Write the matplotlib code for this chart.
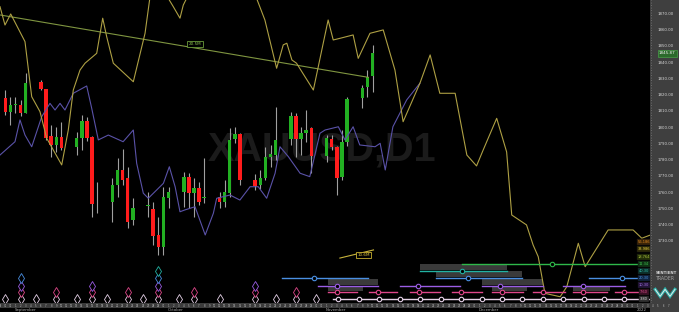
import matplotlib
matplotlib.use('Agg')
import matplotlib.pyplot as plt
from matplotlib.patches import Rectangle
import pandas as pd

# ---- daily candles XAUUSD D1 ----
dates = ['2021-08-30', '2021-08-31', '2021-09-01', '2021-09-02', '2021-09-03',
         '2021-09-06', '2021-09-07', '2021-09-08', '2021-09-09', '2021-09-10',
         '2021-09-13', '2021-09-14', '2021-09-15', '2021-09-16', '2021-09-17',
         '2021-09-20', '2021-09-21', '2021-09-22', '2021-09-23', '2021-09-24',
         '2021-09-27', '2021-09-28', '2021-09-29', '2021-09-30', '2021-10-01',
         '2021-10-04', '2021-10-05', '2021-10-06', '2021-10-07', '2021-10-08',
         '2021-10-11', '2021-10-12', '2021-10-13', '2021-10-14', '2021-10-15',
         '2021-10-18', '2021-10-19', '2021-10-20', '2021-10-21', '2021-10-22',
         '2021-10-25', '2021-10-26', '2021-10-27', '2021-10-28', '2021-10-29',
         '2021-11-01', '2021-11-02', '2021-11-03', '2021-11-04', '2021-11-05',
         '2021-11-08', '2021-11-09', '2021-11-10']
opens = [1818.3, 1809.7, 1813.8, 1814.0, 1809.3,
         1828.0, 1823.7, 1795.0, 1789.4, 1794.1,
         1788.3, 1793.5, 1804.2, 1794.0, 1754.0,
         1754.5, 1764.8, 1774.0, 1768.9, 1743.2,
         1752.0, 1750.0, 1734.0, 1726.4, 1756.6,
         1760.7, 1769.9, 1759.7, 1762.8, 1757.0,
         1757.6, 1754.1, 1759.7, 1792.9, 1796.0,
         1767.8, 1764.8, 1769.3, 1781.8, 1783.2,
         1792.9, 1807.2, 1792.9, 1796.6, 1799.7,
         1782.6, 1793.0, 1788.0, 1769.9, 1791.4,
         1818.1, 1825.3, 1832.0]
highs = [1823.2, 1819.1, 1819.0, 1817.0, 1833.5,
         1829.4, 1824.0, 1801.7, 1800.6, 1803.7,
         1797.6, 1807.8, 1806.8, 1795.0, 1766.8,
         1769.0, 1781.2, 1786.9, 1776.0, 1756.6,
         1760.7, 1754.5, 1745.3, 1763.7, 1763.7,
         1773.0, 1772.0, 1769.0, 1766.8, 1781.2,
         1760.7, 1767.8, 1799.7, 1800.6, 1797.0,
         1771.5, 1774.0, 1788.3, 1789.4, 1813.0,
         1809.9, 1808.9, 1800.6, 1810.9, 1800.6,
         1795.5, 1795.5, 1789.0, 1798.6, 1819.0,
         1826.3, 1835.5, 1850.9]
lows = [1807.8, 1801.7, 1809.0, 1807.0, 1809.0,
        1823.0, 1792.5, 1782.0, 1785.3, 1786.3,
        1783.2, 1786.3, 1792.0, 1745.3, 1747.4,
        1742.2, 1757.6, 1764.8, 1738.1, 1740.2,
        1745.3, 1727.9, 1721.7, 1721.7, 1750.4,
        1751.4, 1750.4, 1745.3, 1752.5, 1753.5,
        1750.4, 1751.4, 1757.6, 1790.4, 1764.8,
        1761.7, 1762.0, 1767.8, 1776.0, 1780.2,
        1789.4, 1782.2, 1783.2, 1791.4, 1772.0,
        1779.0, 1786.3, 1758.6, 1768.0, 1789.0,
        1812.0, 1819.1, 1822.2]
closes = [1809.7, 1814.0, 1814.2, 1809.3, 1827.3,
          1823.7, 1793.5, 1789.4, 1794.1, 1787.4,
          1793.5, 1804.3, 1793.5, 1753.0, 1754.5,
          1764.8, 1774.0, 1767.8, 1742.2, 1750.4,
          1752.5, 1733.6, 1726.4, 1757.2, 1760.3,
          1769.9, 1759.7, 1762.8, 1754.5, 1757.5,
          1754.1, 1760.7, 1792.5, 1796.0, 1767.8,
          1764.2, 1769.3, 1781.8, 1783.7, 1792.5,
          1807.2, 1792.9, 1796.6, 1798.6, 1782.6,
          1793.5, 1788.0, 1769.3, 1791.4, 1817.5,
          1824.3, 1831.4, 1845.9]

# ---- overlay lines (x = days since 1 Sep 2021) ----
yellow_days = [-3.04, -2.06, -0.94, 1.86, 3.18, 4.8, 6.12, 7.41, 9.06, 10.35,
               11.33, 12.65, 13.63, 15.92, 17.1, 17.88, 19.18, 23.1, 25.4, 27.0,
               30.94, 32.25, 32.9, 36.0, 42.0, 46.0, 48.9, 51.2, 52.5, 53.2,
               54.2, 55.1, 58.4, 61.3, 62.3, 63.6, 66.2, 67.2, 69.5, 72.1,
               74.4, 76.0, 79.3, 81.3, 83.2, 86.2, 88.5, 90.4, 91.7, 94.35,
               96.3, 97.3, 100.2, 101.5, 102.5, 103.8, 106.8, 108.1, 110.35, 111.7,
               116.2, 121.1, 122.8, 124.5]
yellow_price = [1874.5, 1863.2, 1870.0, 1853.0, 1819.1, 1809.9, 1793.5, 1786.3, 1777.1, 1798.6,
                1823.2, 1835.5, 1839.7, 1845.8, 1867.4, 1856.0, 1839.7, 1828.3, 1858.1, 1895.0,
                1874.5, 1867.4, 1875.5, 1895.0, 1905.0, 1890.0, 1866.3, 1836.6, 1851.0, 1852.0,
                1841.7, 1839.7, 1823.2, 1866.3, 1854.0, 1855.0, 1857.1, 1842.7, 1858.1, 1860.2,
                1835.5, 1803.7, 1827.4, 1844.8, 1821.2, 1821.2, 1783.2, 1776.5, 1786.3, 1805.8,
                1785.1, 1746.3, 1740.2, 1727.8, 1720.6, 1698.1, 1696.0, 1702.2, 1728.9, 1714.5,
                1737.1, 1737.1, 1732.0, 1734.0]
purple_days = [-3.04, -0.1, 0.88, 1.86, 3.18, 5.14, 6.76, 7.75, 8.73, 9.7,
               11.33, 13.96, 14.94, 16.24, 18.2, 21.1, 23.1, 23.76, 25.06, 26.04,
               29.0, 30.16, 31.3, 32.25, 33.2, 35.2, 37.2, 38.8, 39.45, 42.06,
               44.0, 46.0, 47.6, 49.25, 50.9, 51.86, 53.5, 55.8, 57.7, 59.7,
               60.7, 63.3, 64.6, 66.2, 67.5, 70.5, 71.5, 72.5, 74.0, 76.7, 79.3]
purple_price = [1783.2, 1791.4, 1804.8, 1795.5, 1788.3, 1806.8, 1815.0, 1810.9, 1815.0, 1810.9,
                1821.2, 1825.7, 1812.0, 1792.5, 1795.5, 1791.4, 1798.6, 1778.1, 1759.7, 1756.6,
                1765.8, 1776.0, 1763.7, 1748.3, 1749.4, 1751.4, 1734.0, 1747.4, 1756.6, 1758.6,
                1755.5, 1763.7, 1763.7, 1756.6, 1772.0, 1788.3, 1782.2, 1772.0, 1769.9, 1796.6,
                1798.6, 1800.6, 1792.5, 1800.6, 1789.4, 1788.3, 1790.4, 1774.0, 1800.6, 1817.1, 1827.4]
trend_days = [-3.04, 69.2]
trend_price = [1869.4, 1831.0]
vol_days = [63.6, 70.2]
vol_price = [1719.8, 1724.8]

price_ticks = [1870, 1860, 1850, 1840, 1830, 1820, 1810, 1800, 1790, 1780, 1770, 1760, 1750, 1740, 1730]
last_price = 1845.87

# ---- cycle troughs ----
trough_days = [-2, 1, 4, 8, 12, 15, 18, 22, 25, 28, 32, 35, 40, 47, 51, 55, 59]
trough_depth = [1, 4, 1, 2, 1, 3, 1, 2, 1, 5, 1, 2, 1, 3, 1, 2, 1]

white_line = (62.25, 124.5)
white_centres = [63.3, 67.3, 71.3, 75.3, 79.3, 83.4, 87.4, 91.4, 95.4, 99.4, 103.4, 107.4, 111.5, 115.4, 119.4]
pink_segments = [(61.3, 63.0, 67.0), (69.3, 71.1, 74.8), (77.35, 79.2, 83.2), (85.5, 87.3, 91.4),
                 (93.4, 95.3, 99.6), (101.4, 103.4, 107.7), (109.4, 111.3, 115.9), (117.5, 119.4, 122.4)]
purple_segments = [(59.4, 63.0, 71.1), (75.4, 79.0, 87.2), (91.4, 95.0, 103.5), (107.4, 111.2, 119.5)]
blue_segments = [(52.2, 58.5, 69.2), (82.45, 88.8, 99.4), (112.5, 118.9, 124.5)]
teal_segments = [(79.3, 87.6, 96.3)]
green_segments = [(87.5, 105.25, 124.5)]
# gray windows: (row below, start, end)
windows = [(4, 79.3, 96.3), (3, 82.45, 99.4), (2, 61.3, 71.1), (2, 91.4, 103.5),
           (1, 61.3, 68.1), (1, 93.4, 100.3), (1, 109.4, 116.6)]

cycle_labels = ['56.186', '33.986', '18.764', '11.34', '40.30', '20.30', '10.30', '7.60', '3.80']

months = ['September', 'October', 'November', 'December', '2022']
month_days = [0, 30, 61, 91, 122]

# ---- layout ----
W, H = 679, 312
x0, x1 = -3.039, 124.41
y0, y1 = 1692.15, 1878.6
row_px = [299.3, 292.3, 285.5, 278.0, 270.7, 264.0]
row_y = [(303 - p) / 303 for p in row_px]
step = row_y[1] - row_y[0]
row_colors = ['#e6d2e8', '#e0478a', '#9b5de5', '#4a8fe2', '#22b2a2', '#2eb84a']

fig = plt.figure(figsize=(W / 100, H / 100), dpi=100, facecolor='black')
ax = fig.add_axes([0, 9 / H, 650 / W, 303 / H])
ax.set_facecolor('black')
ax.set_xlim(x0, x1)
ax.set_ylim(y0, y1)
ax.axis('off')

ax.text(60.1, 1786.3, 'XAUUSD,D1', ha='center', va='center', fontsize=28.5,
        fontweight='bold', family='Liberation Sans', color='#1b1b1b', zorder=0)

# candles
start = pd.Timestamp('2021-09-01')
days = [(pd.Timestamp(d) - start).days for d in dates]
for d, o, h, l, c in zip(days, opens, highs, lows, closes):
    col = '#22b022' if c >= o else '#ff1c1c'
    ax.vlines(d, l, h, color='#a0a0a0', lw=0.8, zorder=2)
    ax.bar(d, max(abs(c - o), 0.5), bottom=min(o, c), width=0.7, color=col,
           linewidth=0, zorder=3)

# lines
ax.plot(trend_days, trend_price, color='#7f9540', lw=0.8, zorder=4)
ax.plot(purple_days, purple_price, color='#5a52a8', lw=0.8, zorder=4)
ax.plot(yellow_days, yellow_price, color='#aea044', lw=0.8, zorder=4)
ax.plot(vol_days, vol_price, color='#c8b43c', lw=0.8, zorder=4)
ax.text(35.2, 1851.5, '20.5M', ha='center', va='center', fontsize=3, color='#8cc050',
        zorder=5, bbox=dict(boxstyle='square,pad=0.3', fc='black', ec='#6a9a3a', lw=0.6))
ax.text(68.3, 1721.7, '10.6M', ha='center', va='center', fontsize=3, color='#e0c840',
        zorder=5, bbox=dict(boxstyle='square,pad=0.3', fc='black', ec='#c8b030', lw=0.6))

# cycle area
tr = ax.get_xaxis_transform()
for k, a, b in windows:
    ax.add_patch(Rectangle((a, row_y[k] + step * 0.12), b - a, step * 0.85,
                           transform=tr, color='#3a3a3a', lw=0, zorder=1))

for d, n in zip(trough_days, trough_depth):
    for k in range(n):
        ax.plot(d, row_y[k], marker='d', ms=4.6, mfc='black', mec=row_colors[k],
                mew=0.6, transform=tr, zorder=6, clip_on=False)

ax.plot(white_line, [row_y[0]] * 2, color=row_colors[0], lw=1.0, transform=tr, zorder=5)
ax.plot(white_centres, [row_y[0]] * len(white_centres), ls='none', marker='o', ms=3.2,
        mfc='black', mec=row_colors[0], mew=0.8, transform=tr, zorder=6)
for k, segs in zip([1, 2, 3, 4, 5], [pink_segments, purple_segments, blue_segments,
                                     teal_segments, green_segments]):
    for a, c, b in segs:
        ax.plot([a, b], [row_y[k]] * 2, color=row_colors[k], lw=1.0, transform=tr, zorder=5)
        ax.plot(c, row_y[k], marker='o', ms=3.2, mfc='black', mec=row_colors[k], mew=0.8,
                transform=tr, zorder=6)

# cycle labels at right edge
lab_px = [241.7, 249.3, 257.3, 264.0, 270.7, 278.0, 285.3, 292.0, 299.3]
lab_fg = ['#e08a20', '#e8d040', '#a8c040', '#40c050', '#30b8a8', '#4a90e0', '#a070e0', '#e05090', '#e0e0e0']
lab_bg = ['#3a2408', '#2e2a08', '#243008', '#0e3414', '#0c302c', '#102440', '#24143a', '#3a1024', '#303030']
for p, t, fg, bg in zip(lab_px, cycle_labels, lab_fg, lab_bg):
    ax.text(0.9905, (303 - p) / 303, t, transform=ax.transAxes, ha='center', va='center',
            fontsize=2.6, color=fg, zorder=7, clip_on=False,
            bbox=dict(boxstyle='square,pad=0.25', fc=bg, ec='#151515', lw=0.3))

# right price panel
axr = fig.add_axes([650 / W, 9 / H, 29 / W, 303 / H])
axr.set_facecolor('#3f3f3f')
axr.set_ylim(y0, y1)
axr.set_xlim(0, 1)
axr.set_xticks([])
axr.set_yticks([])
for s in axr.spines.values():
    s.set_visible(False)
axr.axvline(0.03, color='#7a7a7a', lw=0.6, ls=(0, (1, 2)))
for t in price_ticks:
    axr.text(0.55, t, f'{t:.2f}', ha='center', va='center', fontsize=2.8, color='#d6d6d6')
axr.text(0.6, last_price, f'{last_price:.2f}', ha='center', va='center', fontsize=3,
         color='#f0f0f0', bbox=dict(boxstyle='square,pad=0.35', fc='#2c6a2c', ec='#48a048', lw=0.5))
axr.text(0.55, (303 - 273) / 303, 'SENTIENT', transform=axr.transAxes, ha='center',
         va='center', fontsize=2.8, color='#d0d0d0', fontweight='bold')
axr.text(0.55, (303 - 278.5) / 303, 'TRADER', transform=axr.transAxes, ha='center',
         va='center', fontsize=3.4, color='#a0a0a0')
axr.plot([0.18, 0.35, 0.52, 0.69, 0.86], [0.045, 0.022, 0.045, 0.022, 0.045],
         transform=axr.transAxes, color='#2ab0a8', lw=2.2, solid_joinstyle='miter')
axr.plot([0.18, 0.35, 0.52, 0.69, 0.86], [0.045, 0.022, 0.045, 0.022, 0.045],
         transform=axr.transAxes, color='#e8e8e8', lw=0.7)

# bottom date strip
axb = fig.add_axes([0, 0, 1, 9 / H])
axb.set_facecolor('black')
axb.set_xlim(x0, x0 + (x1 - x0) * W / 650)
axb.set_ylim(0, 1)
axb.axis('off')
axb.add_patch(Rectangle((x0, 0.45), 130, 0.55, color='#3b3b3b', lw=0))
axb.add_patch(Rectangle((x1, 0), 10, 1, color='#3f3f3f', lw=0))
cal = pd.date_range('2021-08-29', '2022-01-07')
for day in cal:
    d = (day - start).days
    axb.text(d, 0.72, str(day.day), ha='center', va='center', fontsize=1.8, color='#c0c0c0')
for m, d in zip(months, month_days):
    axb.text(d - 0.1, 0.2, m, ha='left', va='center', fontsize=2.8, color='#a8a8a8')

fig.savefig('out.png', dpi=100, facecolor='black')
